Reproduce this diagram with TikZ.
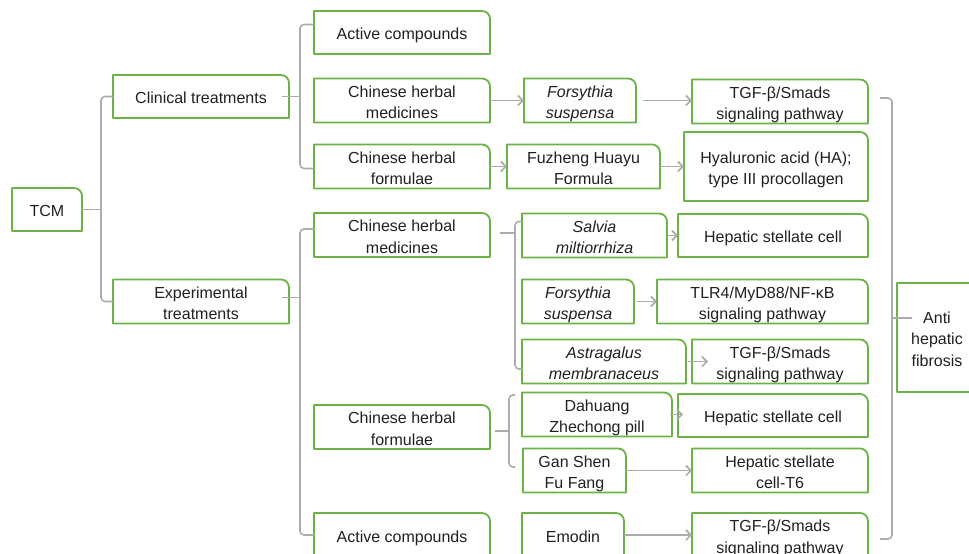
\documentclass[tikz,border=0pt]{standalone}
\usepackage{fontspec}
\setmainfont{Liberation Sans}
\usetikzlibrary{arrows.meta}
\definecolor{boxgreen}{RGB}{108,178,70}
\definecolor{conngray}{RGB}{172,172,172}
\definecolor{txt}{RGB}{35,31,32}
\tikzset{
  boxline/.style={draw=boxgreen, line width=1.8pt, line join=round},
  box/.style={inner sep=0pt, outer sep=0pt, align=center, text=txt,
    font=\fontsize{16}{21.5}\selectfont,
    append after command={\pgfextra{\draw[boxline] (\tikzlastnode.south west) -- (\tikzlastnode.north west) -- ([xshift=-8pt]\tikzlastnode.north east) arc[start angle=90,end angle=0,radius=8pt] -- (\tikzlastnode.south east) -- cycle;}}},
  conn/.style={draw=conngray, line width=1.6pt, rounded corners=4pt},
  arr/.style={draw=conngray, line width=1.6pt, -{Straight Barb[length=5pt,width=10pt]}}
}
\newcommand\bx[6]{\node[box, minimum width={(#4-#2)*1pt}, minimum height={(#5-#3)*1pt}] (#1) at ({(#2+#4)/2},{-(#3+#5)/2}) {\rule{0pt}{18.5pt}#6\rule[-4pt]{0pt}{0pt}};}
\begin{document}
\begin{tikzpicture}[x=1pt,y=1pt]
\useasboundingbox (0,0) rectangle (969,-554);
\coordinate (v0) at (101,0);
\coordinate (v1) at (300,0);
\coordinate (v2) at (515,0);
\coordinate (v3) at (509,0);
\coordinate (v4) at (892,0);

\bx{tcm}{12}{188}{82}{231}{TCM}
\bx{clin}{113}{75}{289}{118}{Clinical treatments}
\bx{exp}{113}{280}{289}{323}{Experimental\\treatments}
\bx{ac1}{314}{11}{490}{54}{Active compounds}
\bx{chm1}{314}{79}{490}{122}{Chinese herbal\\medicines}
\bx{chf1}{314}{145}{490}{188}{Chinese herbal\\formulae}
\bx{fors1}{524}{79}{636}{122}{\textit{Forsythia}\\\textit{suspensa}}
\bx{fuz}{507}{145}{660}{188}{Fuzheng Huayu\\Formula}
\bx{tgf1}{692}{80}{868}{123}{TGF-β/Smads\\signaling pathway}
\bx{ha}{684}{132}{868}{201}{Hyaluronic acid (HA);\\type III procollagen}
\bx{chm2}{314}{213}{490}{257}{Chinese herbal\\medicines}
\bx{salv}{522}{214}{667}{257}{\textit{Salvia}\\\textit{miltiorrhiza}}
\bx{hsc1}{678}{214}{868}{257}{Hepatic stellate cell}
\bx{fors2}{522}{280}{634}{323}{\textit{Forsythia}\\\textit{suspensa}}
\bx{tlr}{657}{280}{868}{323}{TLR4/MyD88/NF-κB\\signaling pathway}
\bx{astr}{522}{340}{686}{383}{\textit{Astragalus}\\\textit{membranaceus}}
\bx{tgf2}{692}{340}{868}{383}{TGF-β/Smads\\signaling pathway}
\bx{chf2}{314}{405}{490}{449}{Chinese herbal\\formulae}
\bx{dah}{522}{393}{672}{436}{Dahuang\\Zhechong pill}
\bx{hsc2}{678}{394}{868}{437}{Hepatic stellate cell}
\bx{gan}{523}{449}{626}{492}{Gan Shen\\Fu Fang}
\bx{t6}{692}{449}{868}{492}{Hepatic stellate\\cell-T6}
\bx{ac2}{314}{513}{490}{557}{Active compounds}
\bx{emo}{522}{513}{624}{557}{Emodin}
\bx{tgf3}{692}{513}{868}{557}{TGF-β/Smads\\signaling pathway}
\bx{anti}{897}{283}{977}{392}{Anti\\hepatic\\fibrosis}

% TCM bracket
\draw[conn] (clin.west) -- (clin.west -| v0) -- (exp.west -| v0) -- (exp.west);
\draw[conn] (tcm.east) -- (tcm.east -| v0);
% clinical bracket
\draw[conn] ([yshift=8pt]ac1.west) -- ([yshift=8pt]ac1.west -| v1) -- ([yshift=-2pt]chf1.west -| v1) -- ([yshift=-2pt]chf1.west);
\draw[conn] ([xshift=-7pt]clin.east) -- (clin.east -| v1);
% experimental bracket
\draw[conn] ([yshift=6pt]chm2.west) -- ([yshift=6pt]chm2.west -| v1) -- (ac2.west -| v1) -- (ac2.west);
\draw[conn] ([xshift=-7pt,yshift=4pt]exp.east) -- ([yshift=4pt]exp.east -| v1);
% medicines bracket
\draw[conn] ([yshift=14pt]salv.west) -- ([yshift=14pt]salv.west -| v2) -- ([yshift=-7.5pt]astr.west -| v2) -- ([yshift=-7.5pt]astr.west);
\draw[conn] ([xshift=10pt,yshift=2pt]chm2.east) -- ([yshift=2pt]chm2.east -| v2);
% formulae bracket
\draw[conn] ([xshift=-7pt,yshift=19.5pt]dah.west) -- ([yshift=19.5pt]dah.west -| v3) -- ([yshift=3.5pt]gan.west -| v3) -- ([xshift=-8pt,yshift=3.5pt]gan.west);
\draw[conn] ([xshift=5pt,yshift=-4pt]chf2.east) -- ([yshift=-4pt]chf2.east -| v3);
% right bracket
\draw[conn] ([xshift=12pt,yshift=3.5pt]tgf1.east) -- ([yshift=3.5pt]tgf1.east -| v4) -- ([yshift=-4pt]tgf3.east -| v4) -- ([xshift=12pt,yshift=-4pt]tgf3.east);
\draw[conn] ([yshift=19.5pt]anti.west -| v4) -- ([xshift=15pt,yshift=19.5pt]anti.west);

% arrows
\draw[arr] (chm1.east) -- (fors1.west);
\draw[arr] ([xshift=7pt]fors1.east) -- (fors1.east -| tgf1.west);
\draw[arr] (chf1.east) -- (fuz.west);
\draw[arr] (fuz.east) -- (ha.west |- fuz.east);
\draw[arr] (salv.east) -- (hsc1.west);
\draw[arr] ([xshift=3pt]fors2.east) -- (tlr.west);
\draw[arr, shorten >=-16pt] ([xshift=2pt]astr.east) -- (tgf2.west);
\draw[arr, shorten >=-5pt] ([xshift=-2pt]dah.east) -- (hsc2.west |- dah.east);
\draw[arr] (gan.east) -- (t6.west |- gan.east);
\draw[arr] (emo.east) -- (tgf3.west);
\end{tikzpicture}
\end{document}
